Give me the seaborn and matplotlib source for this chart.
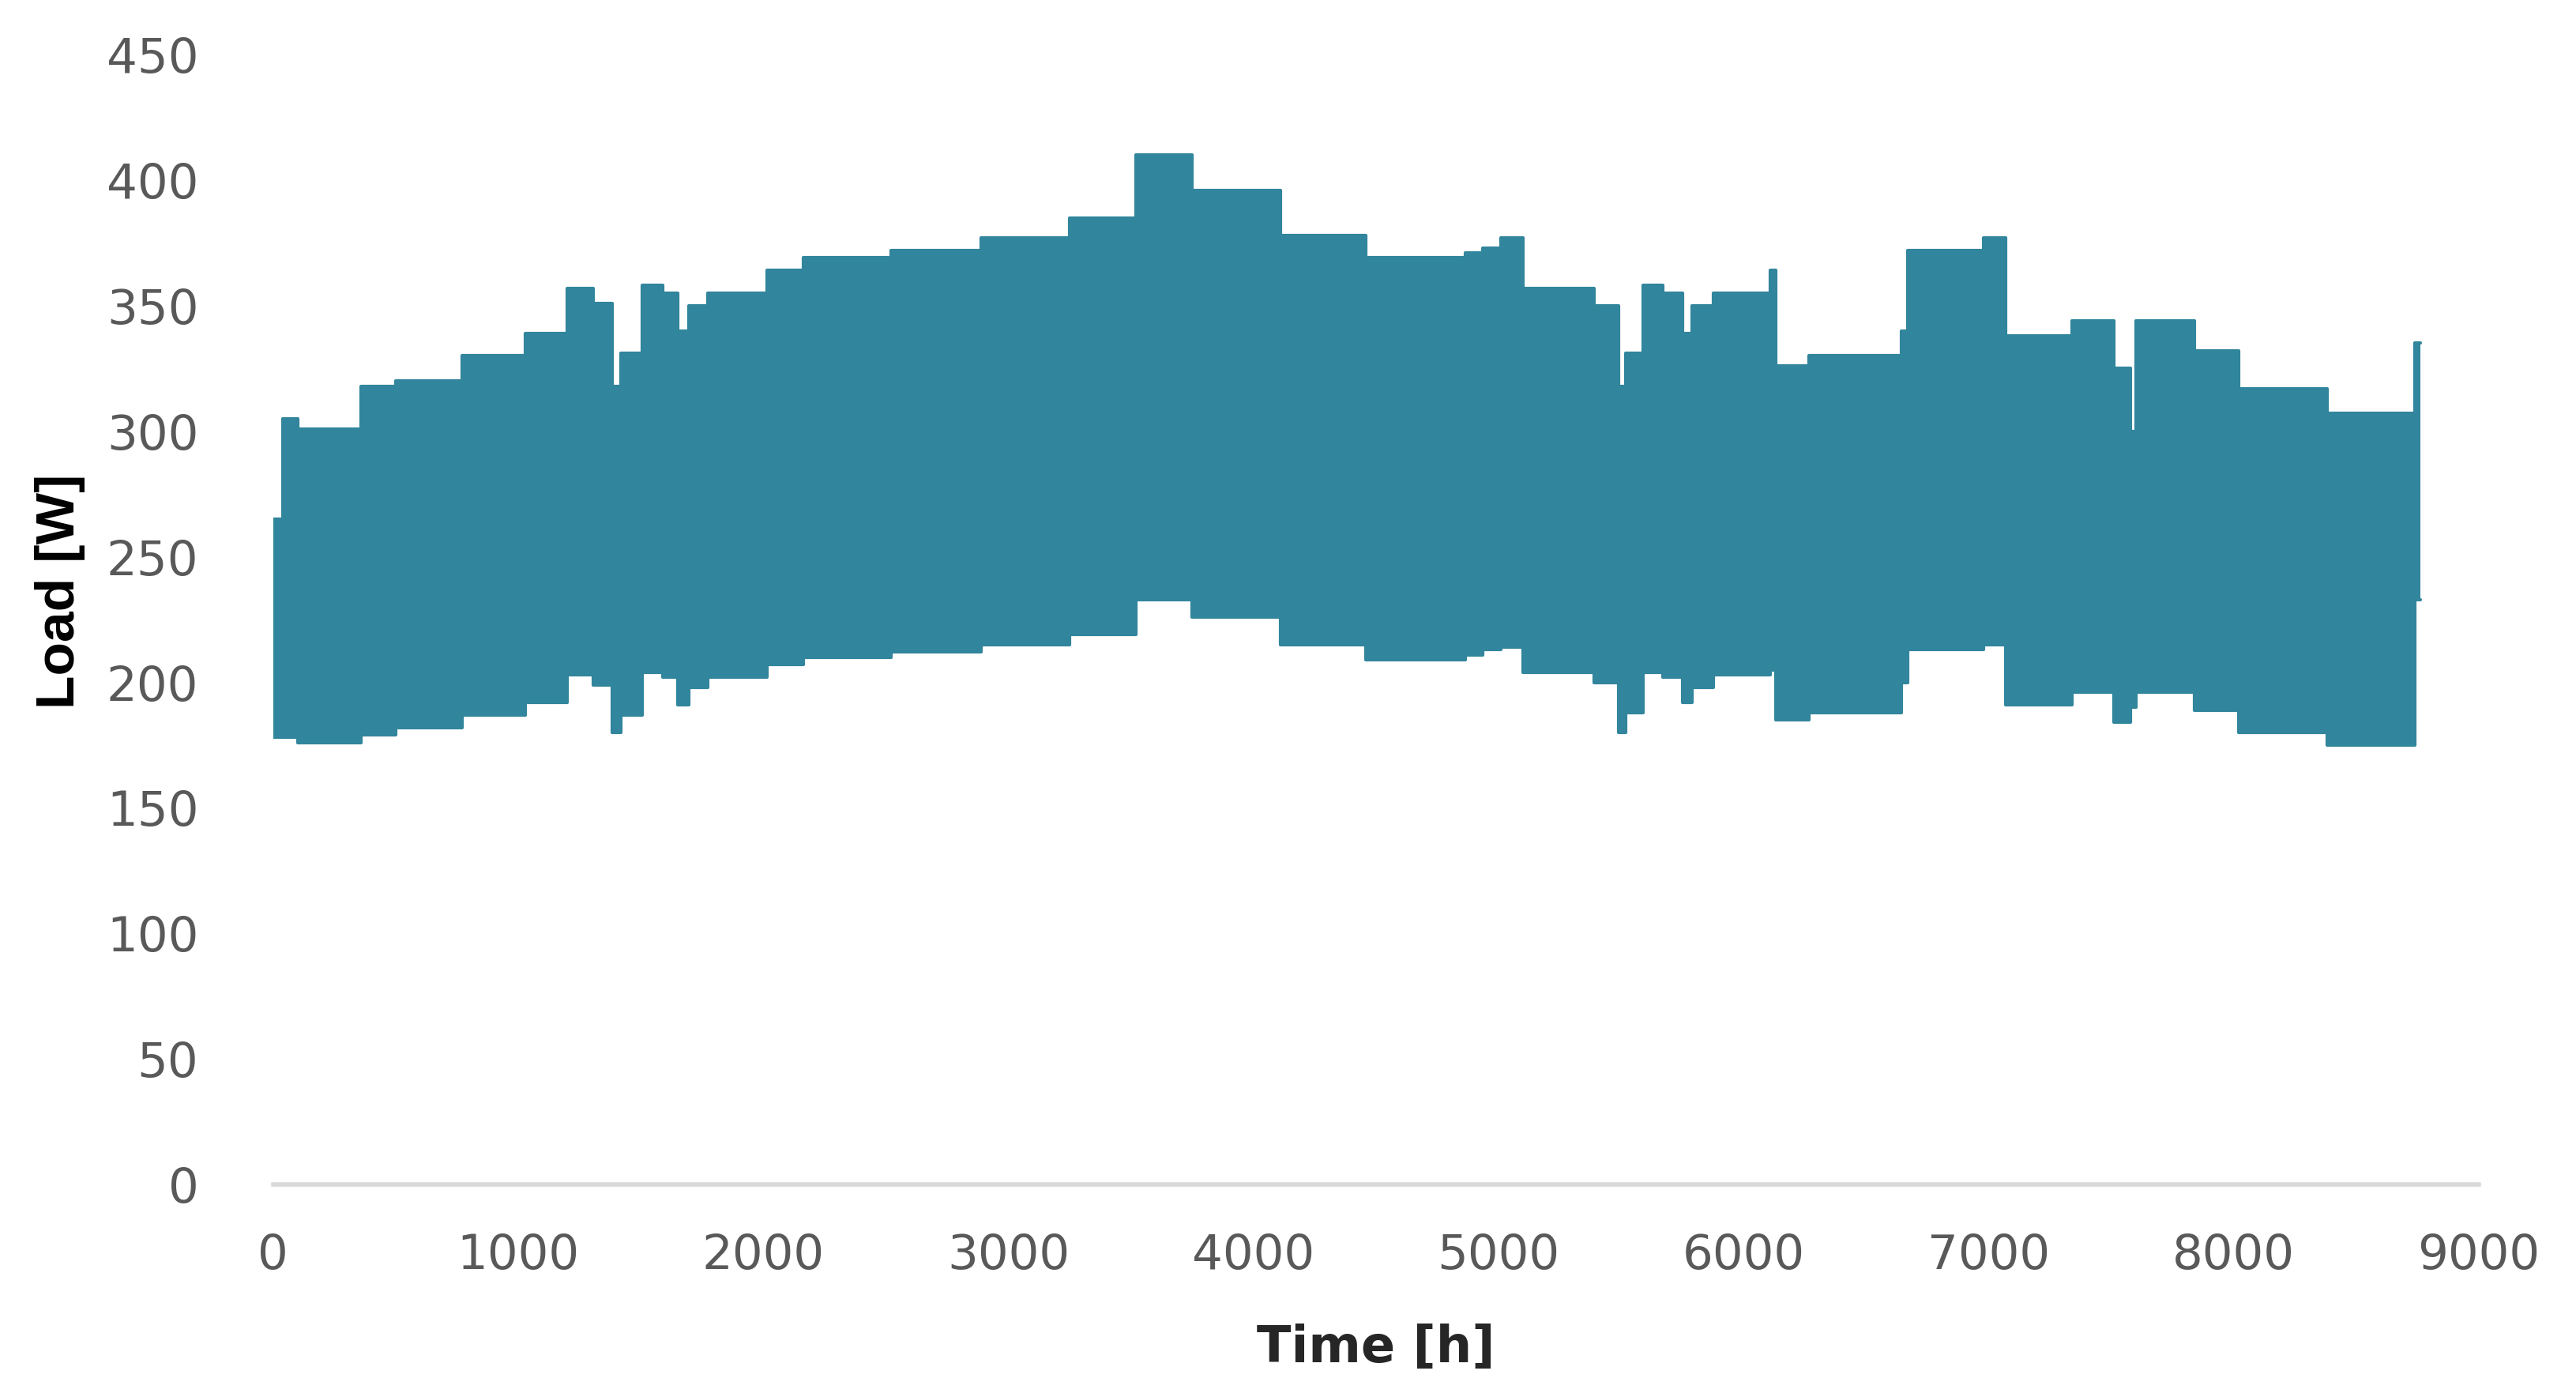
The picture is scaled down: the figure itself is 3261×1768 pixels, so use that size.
import numpy as np
import pandas as pd
import matplotlib
matplotlib.use("Agg")
import matplotlib.pyplot as plt
import seaborn as sns

# Block boundaries of the load envelope (hours) and the max / min load of each block [W]
edges = [0, 40, 100, 360, 500, 770, 1030, 1200, 1305, 1385, 1420, 1505, 1590, 1650,
         1695, 1775, 2015, 2165, 2520, 2890, 3250, 3520, 3750, 4110, 4460, 4865,
         4935, 5010, 5100, 5390, 5490, 5520, 5590, 5670, 5750, 5790, 5875, 6110,
         6130, 6265, 6645, 6670, 6980, 7070, 7340, 7510, 7580, 7600, 7840, 8020,
         8380, 8740, 8760]
upper = [265, 305, 301, 318, 320, 330, 339, 357, 351, 318, 331, 358, 355, 340,
         350, 355, 364, 369, 372, 377, 385, 410, 396, 378, 369, 371,
         373, 377, 357, 350, 318, 331, 358, 355, 339, 350, 355, 364,
         326, 330, 340, 372, 377, 338, 344, 325, 300, 344, 332, 317,
         307, 335]
lower = [178, 178, 176, 179, 182, 187, 192, 203, 199, 180, 187, 204, 202, 191,
         198, 202, 207, 210, 212, 215, 219, 233, 226, 215, 209, 211,
         213, 214, 204, 200, 180, 188, 204, 202, 192, 198, 203, 205,
         185, 188, 200, 213, 215, 191, 196, 184, 190, 196, 189, 180,
         175, 233]

xticks = [0, 1000, 2000, 3000, 4000, 5000, 6000, 7000, 8000, 9000]
yticks = [0, 50, 100, 150, 200, 250, 300, 350, 400, 450]

teal = "#31859C"

# step-post needs the last value repeated at the final edge
df = pd.DataFrame({
    "hour": edges,
    "upper": upper + [upper[-1]],
    "lower": lower + [lower[-1]],
})

sns.set_theme(style="white")
plt.rcParams["font.family"] = ["DejaVu Sans"]

fig = plt.figure(figsize=(16.31, 8.84), dpi=200)
ax = fig.add_axes([0.106, 0.152, 0.856, 0.809])

ax.fill_between(df["hour"], df["lower"], df["upper"], step="post",
                color=teal, linewidth=0)
sns.lineplot(data=df, x="hour", y="upper", drawstyle="steps-post",
             color=teal, linewidth=1.5, ax=ax)
sns.lineplot(data=df, x="hour", y="lower", drawstyle="steps-post",
             color=teal, linewidth=1.5, ax=ax)

ax.set_xlim(0, 9000)
ax.set_ylim(0, 450)
ax.set_xticks(xticks)
ax.set_yticks(yticks)
ax.tick_params(axis="both", length=0, labelsize=22, labelcolor="#595959")
ax.tick_params(axis="x", pad=22)
ax.tick_params(axis="y", pad=34)

for side in ["left", "right", "top"]:
    ax.spines[side].set_visible(False)
ax.spines["bottom"].set_color("#D9D9D9")
ax.spines["bottom"].set_linewidth(2)

ax.set_xlabel("Time [h]", fontsize=23, fontweight="bold", color="#262626",
              family=["DejaVu Sans"], labelpad=20)
ax.set_ylabel("Load [W]", fontsize=25, fontweight="bold", color="black",
              family=["Liberation Sans", "DejaVu Sans"])
ax.yaxis.set_label_coords(-0.085, 0.525)

fig.savefig("out.png", dpi=200, facecolor="white")
